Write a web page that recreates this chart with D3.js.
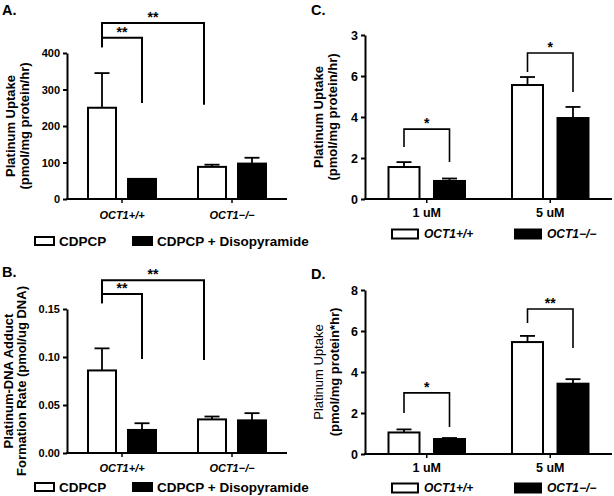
<!DOCTYPE html>
<html><head><meta charset="utf-8">
<script src="https://cdn.jsdelivr.net/npm/d3@7/dist/d3.min.js"></script>
<style>body{margin:0;background:#fff}svg{display:block}text{font-family:"Liberation Sans",Arial,sans-serif}</style>
</head><body>
<script>
// ---------- data ----------
const groupsAB = ["OCT1+/+", "OCT1\u2212/\u2212"];
const seriesAB = ["CDPCP", "CDPCP + Disopyramide"];
const aMeans = [[250, 55], [88, 97]];
const aErrs  = [[95, 0], [6, 16]];
const aTicks = [0, 100, 200, 300, 400];
const aTickLabels = ["0", "100", "200", "300", "400"];

const bMeans = [[0.086, 0.024], [0.035, 0.034]];
const bErrs  = [[0.023, 0.007], [0.003, 0.0075]];
const bTicks = [0, 0.05, 0.10, 0.15];
const bTickLabels = ["0.00", "0.05", "0.10", "0.15"];

const groupsCD = ["1 uM", "5 uM"];
const seriesCD = ["OCT1+/+", "OCT1\u2212/\u2212"];
const cMeans = [[1.56, 0.88], [5.56, 3.95]];
const cErrs  = [[0.24, 0.12], [0.39, 0.54]];
const cTicks = [0, 2, 4, 6, 8];
const cTickLabels = ["0", "2", "4", "6", "3"];

const dMeans = [[1.05, 0.73], [5.46, 3.43]];
const dErrs  = [[0.15, 0.05], [0.30, 0.22]];
const dTicks = [0, 2, 4, 6, 8];
const dTickLabels = ["0", "2", "4", "6", "8"];

// significance brackets: [group, bar] start, [group, bar] end, top value, left leg end, right leg end, label
const aSig = [
  {from: [0, 0], to: [1, -0.2], top: 482, l: 416, r: 258, label: "**"},
  {from: [0, 0], to: [0, 1], top: 442, l: 416, r: 263, label: "**"}
];
const bSig = [
  {from: [0, 0], to: [1, -0.2], top: 0.180, l: 0.156, r: 0.097, label: "**"},
  {from: [0, 0], to: [0, 1], top: 0.1655, l: 0.156, r: 0.098, label: "**"}
];
const cSig = [
  {from: [0, 0], to: [0, 1], top: 3.41, l: 2.54, r: 1.80, label: "*"},
  {from: [1, 0], to: [1, 1], top: 7.12, l: 6.20, r: 5.22, label: "*"}
];
const dSig = [
  {from: [0, 0], to: [0, 1], top: 2.98, l: 2.0, r: 1.32, label: "*"},
  {from: [1, 0], to: [1, 1], top: 7.07, l: 6.39, r: 5.17, label: "**"}
];

// ---------- drawing ----------
const W = 614, H = 496;
const svg = d3.select("body").append("svg").attr("width", W).attr("height", H);

function panel(o) {
  const g = svg.append("g");
  const y = d3.scaleLinear().domain([0, o.ticks[o.ticks.length - 1]]).range([o.y0, o.y1]);
  const x0 = d3.scaleBand().domain(o.groups).range([o.xL, o.xR]);
  const barPos = (gi, bi) => x0(o.groups[gi]) + x0.bandwidth() / 2 + (bi - 0.5) * o.barSep;

  // panel letter
  g.append("text").attr("x", o.lx).attr("y", o.ly).text(o.letter)
    .attr("font-size", 14.5).attr("font-weight", "bold");

  // y label
  o.ylab.forEach((t, i) => {
    g.append("text").attr("transform", `translate(${o.ylx[i]},${(o.y0 + o.y1) / 2}) rotate(-90)`)
      .attr("text-anchor", "middle").attr("dy", "0.35em")
      .attr("font-size", o.ylabSize).attr("font-weight", o.ylabW ? o.ylabW[i] : "bold").text(t);
  });

  // bars
  o.means.forEach((row, gi) => row.forEach((v, bi) => {
    const cx = barPos(gi, bi);
    const e = o.errs[gi][bi];
    if (e > 0) {
      g.append("line").attr("x1", cx).attr("x2", cx).attr("y1", y(v)).attr("y2", y(v + e))
        .attr("stroke", "#000").attr("stroke-width", 1.8);
      g.append("line").attr("x1", cx - o.cap).attr("x2", cx + o.cap).attr("y1", y(v + e)).attr("y2", y(v + e))
        .attr("stroke", "#000").attr("stroke-width", 1.8);
    }
    g.append("rect").attr("x", cx - o.barW / 2).attr("y", y(v)).attr("width", o.barW).attr("height", y(0) - y(v))
      .attr("fill", bi === 0 ? "#fff" : "#000").attr("stroke", "#000").attr("stroke-width", 2);
  }));

  // axes
  const ya = d3.axisLeft(y).tickValues(o.ticks).tickFormat((d, i) => o.tickLabels[i]).tickSize(4).tickSizeOuter(0);
  const yg = g.append("g").attr("transform", `translate(${o.xL},0)`).call(ya);
  yg.select(".domain").attr("stroke-width", 2);
  yg.selectAll(".tick line").attr("stroke-width", 2);
  yg.selectAll("text").attr("font-size", o.tickSize).attr("font-weight", "bold")
    .attr("font-family", '"Liberation Sans",Arial,sans-serif').attr("fill", "#000");

  const xa = d3.axisBottom(x0).tickSize(4).tickSizeOuter(0).tickFormat("");
  const xg = g.append("g").attr("transform", `translate(0,${o.y0})`).call(xa);
  xg.select(".domain").attr("stroke-width", 2).attr("d", `M${o.xL - 1},0H${o.xR}`);
  xg.selectAll(".tick line").attr("stroke-width", 1.5);
  o.groups.forEach(gn => {
    g.append("text").attr("x", x0(gn) + x0.bandwidth() / 2).attr("y", o.catY)
      .attr("text-anchor", "middle").attr("font-size", o.catSize).attr("font-weight", "bold")
      .attr("font-style", o.catItalic ? "italic" : "normal").text(gn);
  });

  // significance brackets
  o.sig.forEach(s => {
    const xa1 = barPos(s.from[0], s.from[1]), xb = barPos(s.to[0], s.to[1]);
    g.append("path").attr("d", `M${xa1},${y(s.l)}V${y(s.top)}H${xb}V${y(s.r)}`)
      .attr("fill", "none").attr("stroke", "#000").attr("stroke-width", o.sigW);
    g.append("text").attr("x", (xa1 + xb) / 2).attr("y", y(s.top) - 1)
      .attr("text-anchor", "middle").attr("font-size", 14).attr("font-weight", "bold").text(s.label);
  });

  // legend
  o.series.forEach((sn, i) => {
    const lx = o.legX[i];
    g.append("rect").attr("x", lx).attr("y", o.legY - o.boxH / 2).attr("width", o.boxW).attr("height", o.boxH)
      .attr("fill", i === 0 ? "#fff" : "#000").attr("stroke", "#000").attr("stroke-width", 2);
    g.append("text").attr("x", lx + o.boxW + o.legGap).attr("y", o.legY).attr("dy", "0.36em")
      .attr("font-size", o.legSize).attr("font-weight", "bold")
      .attr("font-style", o.legItalic ? "italic" : "normal").text(sn);
  });
}

const leftCommon = {groups: groupsAB, series: seriesAB, xL: 67, xR: 287, barW: 28, barSep: 40, cap: 7.5,
  catSize: 11, catItalic: true, legX: [35, 133], boxW: 19, boxH: 8, legGap: 5, legSize: 13.5, sigW: 2,
  tickSize: 11, ylabSize: 13};
const rightCommon = {groups: groupsCD, series: seriesCD, xL: 365, xR: 612, barW: 31, barSep: 45.5, cap: 7.5,
  catSize: 12.5, catItalic: false, legX: [392, 515], boxW: 26, boxH: 9, legGap: 6, legSize: 12, legItalic: true, sigW: 1.6,
  tickSize: 12.5, ylabSize: 13};

panel(Object.assign({}, leftCommon, {letter: "A.", lx: 2, ly: 15, y0: 199, y1: 53,
  means: aMeans, errs: aErrs, ticks: aTicks, tickLabels: aTickLabels, sig: aSig,
  ylab: ["Platinum Uptake", "(pmol/mg protein/hr)"], ylx: [10, 24], catY: 219, legY: 241}));

panel(Object.assign({}, leftCommon, {letter: "B.", lx: 2, ly: 277, y0: 453, y1: 309,
  means: bMeans, errs: bErrs, ticks: bTicks, tickLabels: bTickLabels, sig: bSig,
  ylab: ["Platinum-DNA Adduct", "Formation Rate (pmol/ug DNA)"], ylx: [8, 21], catY: 472, legY: 487}));

panel(Object.assign({}, rightCommon, {letter: "C.", lx: 311, ly: 15, y0: 199, y1: 35,
  means: cMeans, errs: cErrs, ticks: cTicks, tickLabels: cTickLabels, sig: cSig,
  ylab: ["Platinum Uptake", "(pmol/mg protein/hr)"], ylx: [318, 332], catY: 217, legY: 234}));

panel(Object.assign({}, rightCommon, {letter: "D.", lx: 311, ly: 279, y0: 454, y1: 290,
  means: dMeans, errs: dErrs, ticks: dTicks, tickLabels: dTickLabels, sig: dSig,
  ylab: ["Platinum Uptake", "(pmol/mg protein*hr)"], ylabW: ["normal", "bold"], ylx: [318, 334], catY: 472, legY: 488}));
</script>
</body></html>
